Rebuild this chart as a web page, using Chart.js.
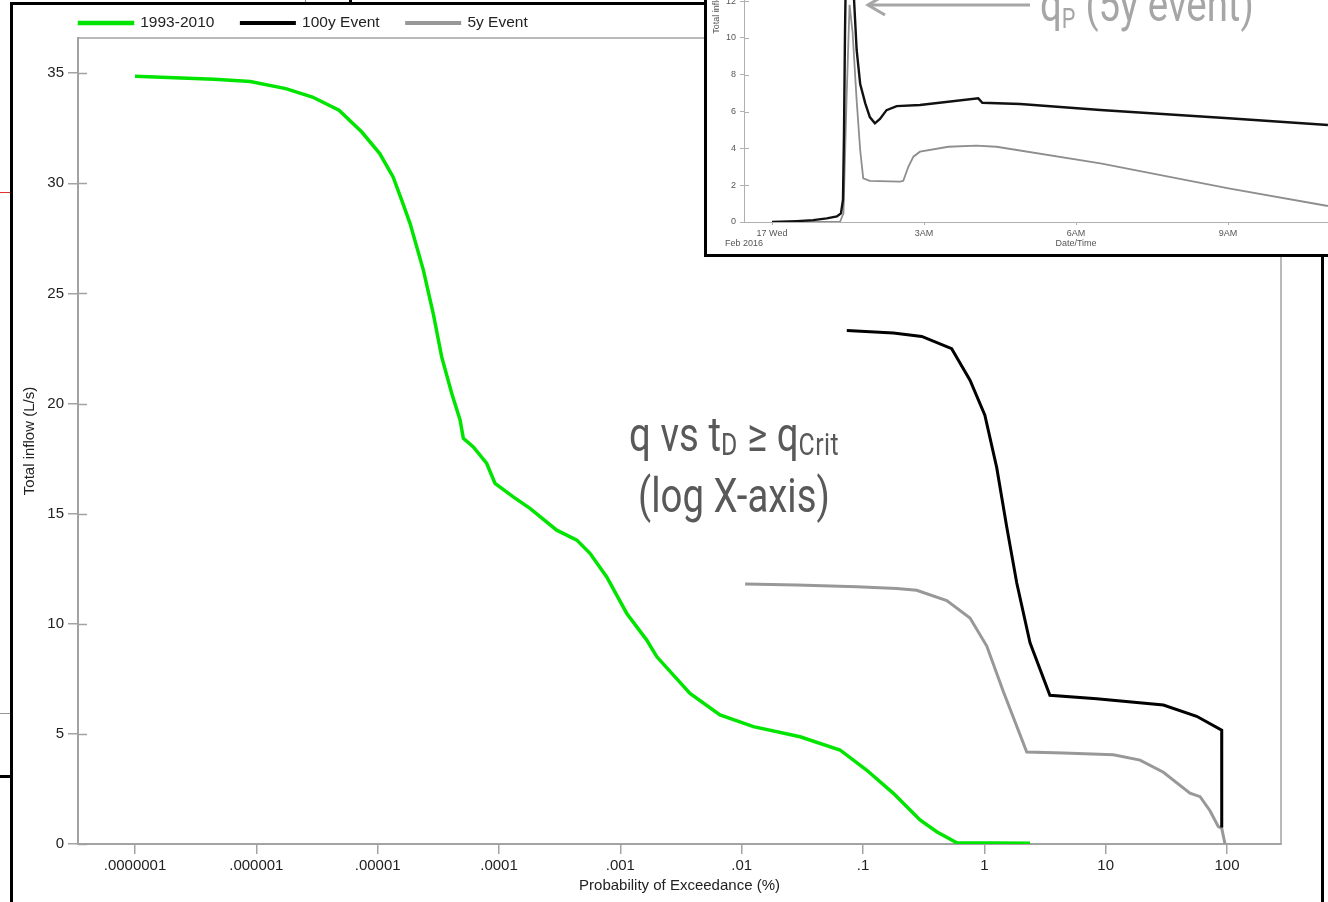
<!DOCTYPE html>
<html>
<head>
<meta charset="utf-8">
<title>Total inflow exceedance</title>
<script src="https://cdn.jsdelivr.net/npm/chart.js@4.4.1/dist/chart.umd.min.js"></script>
<style>
  html, body { margin: 0; padding: 0; background: #fff; }
  body { width: 1328px; height: 902px; position: relative; overflow: hidden;
         font-family: 'Liberation Sans', Arial, sans-serif; }
  .frag { position: absolute; }
  #frame { position: absolute; left: 10px; top: 2px; width: 1308px; height: 1000px;
           border: 3px solid #000; background: #fff; z-index: 1; }
  #mainChart { position: absolute; left: 0; top: 0; }
  #inset { position: absolute; left: 704px; top: -243px; width: 723px; height: 494px;
           border: 3px solid #000; background: #fff; overflow: hidden; z-index: 2; }
  #insetWrap { position: absolute; left: 0; top: 0; width: 723px; height: 494px; filter: blur(0.45px); }
  #insetChart { position: absolute; left: 0; top: 0; }
  #feb { position: absolute; left: 18px; top: 478px; font-size: 9px; color: #555; white-space: nowrap; }
  .note { position: absolute; font-family: Roboto, 'Open Sans', sans-serif; font-size: 48px;
          line-height: 51px; white-space: nowrap; z-index: 3; }
  .note .sub { font-size: 31px; vertical-align: -4px; letter-spacing: 0.5px; }
  #qnote { left: 734px; top: 409px; color: #595959; text-align: center;
           transform: translateX(-50%) scaleX(0.8); transform-origin: 50% 50%; }
  #pnote { left: 1040px; top: -21px; color: #a6a6a6; transform: scaleX(0.8); transform-origin: 0 0; }
  #pnote .sub { font-size: 27px; vertical-align: -7px; }
  #arrow { position: absolute; left: 860px; top: -10px; z-index: 3; }
</style>
</head>
<body>

<!-- edges of the neighbouring panels -->
<div class="frag" style="left:0;top:192px;width:10px;height:1px;background:#e03030"></div>
<div class="frag" style="left:0;top:713px;width:10px;height:1px;background:#999"></div>
<div class="frag" style="left:0;top:775px;width:11px;height:3px;background:#000"></div>
<div class="frag" style="left:305px;top:0;width:1px;height:3px;background:#888"></div>
<div class="frag" style="left:349px;top:0;width:3px;height:3px;background:#000"></div>

<div id="frame">
  <canvas id="mainChart" width="1308" height="897"></canvas>
</div>

<div id="inset">
  <div id="insetWrap">
    <canvas id="insetChart" width="723" height="494"></canvas>
    <div id="feb">Feb 2016</div>
  </div>
</div>

<svg id="arrow" width="200" height="40" viewBox="860 -10 200 40">
  <polyline points="885,-5 868,5 885,15" fill="none" stroke="#a6a6a6" stroke-width="3"/>
  <line x1="868" y1="5" x2="1030" y2="5" stroke="#a6a6a6" stroke-width="3"/>
</svg>
<div id="pnote" class="note">q<span class="sub">P</span> (5y event)</div>
<div id="qnote" class="note">q vs t<span class="sub">D</span> ≥ q<span class="sub">Crit</span><br>(log X-axis)</div>

<script>
// ---- Exceedance curves: probability of exceedance (%) and total inflow (L/s)
const greenP = [1.0e-7, 4.5e-7, 8.9e-7, 1.75e-6, 2.9e-6, 4.8e-6, 7.4e-6, 1.04e-5, 1.34e-5, 1.58e-5,
                1.85e-5, 2.38e-5, 2.87e-5, 3.37e-5, 4.08e-5, 4.78e-5, 5.08e-5, 6.14e-5, 7.92e-5, 9.27e-5,
                1.31e-4, 1.8e-4, 2.99e-4, 4.38e-4, 5.62e-4, 7.72e-4, 1.13e-3, 1.65e-3, 2.0e-3, 3.75e-3,
                6.63e-3, 0.0125, 0.0303, 0.0646, 0.107, 0.178, 0.295, 0.405, 0.592, 2.38];
const greenQ = [34.86, 34.73, 34.62, 34.3, 33.92, 33.32, 32.33, 31.35, 30.29, 29.23,
                28.17, 26.06, 24.09, 22.12, 20.46, 19.25, 18.42, 18.03, 17.28, 16.37,
                15.76, 15.24, 14.25, 13.8, 13.2, 12.13, 10.47, 9.26, 8.5, 6.84,
                5.86, 5.33, 4.87, 4.27, 3.36, 2.3, 1.09, 0.56, 0.06, 0.03];

const event100P = [0.0735, 0.178, 0.305, 0.538, 0.762, 1.01, 1.265, 1.53, 1.85, 2.38,
                   3.47, 8.43, 29.9, 56.2, 90.4, 90.5];
const event100Q = [23.32, 23.2, 23.05, 22.49, 21.06, 19.47, 17.09, 14.39, 11.85, 9.14,
                   6.75, 6.6, 6.31, 5.8, 5.17, 0.75];

const event5P = [0.01067, 0.0284, 0.0888, 0.19, 0.277, 0.49, 0.762, 1.047, 1.436, 2.236,
                 4.48, 11.57, 19.2, 29.9, 49.5, 60, 72.4, 84.8, 90.4, 96.3];
const event5Q = [11.81, 11.76, 11.68, 11.6, 11.52, 11.05, 10.26, 8.99, 6.91, 4.18,
                 4.13, 4.05, 3.81, 3.26, 2.31, 2.15, 1.51, 0.79, 0.72, 0];

const seriesNames = ['1993-2010', '100y Event', '5y Event'];
const xMin = 3.39e-8;
const xMax = 278.6;
const xTickValues = [1e-7, 1e-6, 1e-5, 1e-4, 1e-3, 1e-2, 1e-1, 1, 10, 100];
const xTickLabels = ['.0000001', '.000001', '.00001', '.0001', '.001', '.01', '.1', '1', '10', '100'];
const yTickValues = [0, 5, 10, 15, 20, 25, 30, 35];

// ---- Hydrograph of the two design events: hours after midnight, inflow (L/s)
const hydro100H = [0, 0.49, 0.81, 1.08, 1.28, 1.36, 1.40, 1.42, 1.44, 1.47, 1.51, 1.57, 1.62, 1.67,
                   1.74, 1.84, 1.93, 2.03, 2.13, 2.26, 2.46, 2.92, 4.07, 4.15, 4.90, 6.48, 9.01, 10.97];
const hydro100Q = [0, 0.05, 0.1, 0.2, 0.3, 0.47, 1.2, 4.8, 10.3, 16, 23.3, 16, 12, 9.35,
                   7.5, 6.45, 5.7, 5.36, 5.6, 6.08, 6.3, 6.36, 6.72, 6.48, 6.41, 6.09, 5.64, 5.27];
const hydro5H = [0, 1.34, 1.41, 1.47, 1.53, 1.59, 1.67, 1.74, 1.80, 1.93, 2.53, 2.59, 2.69, 2.79,
                 2.92, 3.48, 4.03, 4.43, 6.48, 9.01, 10.97];
const hydro5Q = [0, 0, 0.47, 6.6, 11.8, 10.3, 6.6, 3.9, 2.37, 2.24, 2.19, 2.24, 3.0, 3.55,
                 3.82, 4.09, 4.15, 4.09, 3.19, 1.83, 0.87];
const timeTickValues = [0, 3, 6, 9];
const timeTickLabels = ['17 Wed', '3AM', '6AM', '9AM'];
const hydroYTicks = [0, 2, 4, 6, 8, 10, 12, 14, 16, 18, 20, 22, 24];

const pairs = (xs, ys) => xs.map((x, i) => ({ x: x, y: ys[i] }));

Chart.defaults.font.family = "'Liberation Sans', Arial, sans-serif";
Chart.defaults.color = '#222';

// Tick marks that cross the value axis, plus an optional box round the plot area
const crossTicks = {
  id: 'crossTicks',
  beforeDatasetsDraw(chart, args, opts) {
    const { ctx, chartArea } = chart;
    const ys = chart.scales.y;
    ctx.save();
    ctx.strokeStyle = opts.color;
    ctx.lineWidth = opts.width;
    if (opts.frame) {
      ctx.strokeRect(chartArea.left, chartArea.top, chartArea.width, chartArea.height);
    }
    ys.ticks.forEach(t => {
      const py = Math.round(ys.getPixelForValue(t.value)) + 0.5;
      ctx.beginPath();
      ctx.moveTo(chartArea.left, py);
      ctx.lineTo(chartArea.left + opts.inner, py);
      ctx.stroke();
    });
    ctx.restore();
  }
};

// Legend row sits just above the plot, starting at its left edge
const legendPlace = {
  id: 'legendPlace',
  beforeDraw(chart, args, opts) {
    const lg = chart.legend;
    if (!lg) return;
    const lab = lg.options.labels;
    const pad = lab.padding;
    const fs = lab.font.size;
    lg.left = chart.chartArea.left + opts.dx - pad;
    lg.top = chart.chartArea.top - opts.rowCenter - fs / 2 - pad;
  }
};

const axisGrey = '#a3a3a3';

new Chart(document.getElementById('mainChart'), {
  type: 'line',
  data: {
    datasets: [
      { label: seriesNames[0], data: pairs(greenP, greenQ), borderColor: '#00e400', backgroundColor: '#00e400', borderWidth: 3.5 },
      { label: seriesNames[1], data: pairs(event100P, event100Q), borderColor: '#000000', backgroundColor: '#000000', borderWidth: 3 },
      { label: seriesNames[2], data: pairs(event5P, event5Q), borderColor: '#989898', backgroundColor: '#989898', borderWidth: 3 }
    ]
  },
  options: {
    responsive: false,
    animation: false,
    events: [],
    elements: { point: { radius: 0 }, line: { tension: 0 } },
    layout: { padding: { left: 0, right: 40, top: 0, bottom: 0 } },
    plugins: {
      tooltip: { enabled: false },
      legend: {
        position: 'top',
        align: 'start',
        maxHeight: 33,
        labels: { boxWidth: 53, boxHeight: 1, padding: 27, color: '#222', font: { size: 15.5 } }
      },
      legendPlace: { dx: 1.5, rowCenter: 15 },
      crossTicks: { color: axisGrey, width: 1.5, inner: 9, frame: true }
    },
    scales: {
      x: {
        type: 'logarithmic',
        min: xMin,
        max: xMax,
        afterBuildTicks: s => {
          s.ticks = xTickValues.map(v => ({ value: v }));
          s.min = xMin;
          s.max = xMax;
        },
        afterFit: s => { s.height = 58; },
        ticks: {
          autoSkip: false, maxRotation: 0, padding: 3, color: '#222', font: { size: 15 },
          callback: (v, i) => xTickLabels[i]
        },
        grid: { drawOnChartArea: false, drawTicks: true, tickLength: 10, color: axisGrey, lineWidth: 1.5 },
        border: { display: true, color: axisGrey, width: 2 },
        title: { display: true, text: 'Probability of Exceedance (%)', color: '#222', font: { size: 15 }, padding: { top: 0, bottom: 7 } }
      },
      y: {
        type: 'linear',
        min: 0,
        max: 36.6,
        afterBuildTicks: s => { s.ticks = yTickValues.map(v => ({ value: v })); },
        afterFit: s => { s.width = 65; },
        ticks: { padding: 4, color: '#222', font: { size: 15 } },
        grid: { drawOnChartArea: false, drawTicks: true, tickLength: 10, color: axisGrey, lineWidth: 1.5 },
        border: { display: true, color: axisGrey, width: 2 },
        title: { display: true, text: 'Total inflow (L/s)', color: '#222', font: { size: 15 }, padding: { top: 8, bottom: 0 } }
      }
    }
  },
  plugins: [crossTicks, legendPlace]
});

new Chart(document.getElementById('insetChart'), {
  type: 'line',
  data: {
    datasets: [
      { label: seriesNames[1], data: pairs(hydro100H, hydro100Q), borderColor: '#111', borderWidth: 2.4 },
      { label: seriesNames[2], data: pairs(hydro5H, hydro5Q), borderColor: '#8e8e8e', borderWidth: 1.8 }
    ]
  },
  options: {
    responsive: false,
    animation: false,
    events: [],
    elements: { point: { radius: 0 }, line: { tension: 0 } },
    layout: { padding: { left: 0, right: 22, top: 20.4, bottom: 0 } },
    plugins: {
      legend: { display: false },
      tooltip: { enabled: false },
      crossTicks: { color: '#b0b0b0', width: 1, inner: 5, frame: false }
    },
    scales: {
      x: {
        type: 'linear',
        min: -0.553,
        max: 12.55,
        afterBuildTicks: s => { s.ticks = timeTickValues.map(v => ({ value: v })); },
        afterFit: s => { s.height = 32; },
        ticks: { autoSkip: false, maxRotation: 0, padding: 3, color: '#555', font: { size: 9 },
                 callback: (v, i) => timeTickLabels[i] },
        grid: { drawOnChartArea: false, drawTicks: true, tickLength: 3, color: '#b0b0b0', lineWidth: 1 },
        border: { display: true, color: '#b0b0b0', width: 1 },
        title: { display: true, text: 'Date/Time', color: '#555', font: { size: 9 }, padding: { top: 0, bottom: 4.6 } }
      },
      y: {
        type: 'linear',
        min: 0,
        max: 24,
        afterBuildTicks: s => { s.ticks = hydroYTicks.map(v => ({ value: v })); },
        afterFit: s => { s.width = 37; },
        ticks: { padding: 4, color: '#555', font: { size: 9 } },
        grid: { drawOnChartArea: false, drawTicks: true, tickLength: 4, color: '#b0b0b0', lineWidth: 1 },
        border: { display: true, color: '#b0b0b0', width: 1 },
        title: { display: true, text: 'Total inflow (L/s)', color: '#555', font: { size: 9 }, padding: { top: 4, bottom: 0 } }
      }
    }
  },
  plugins: [crossTicks]
});
</script>
</body>
</html>
